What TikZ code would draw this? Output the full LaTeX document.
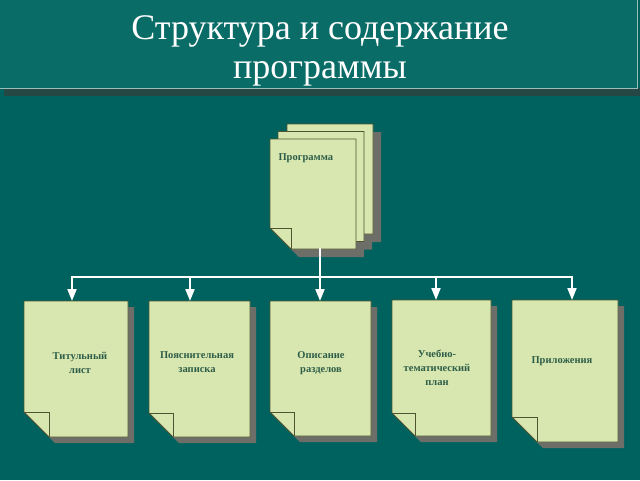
\documentclass[tikz,border=0pt]{standalone}
\usepackage{fontspec}
\setmainfont{Liberation Serif}
\usetikzlibrary{calc,arrows.meta}
\definecolor{bgc}{HTML}{00625E}
\definecolor{barc}{HTML}{0A6C67}
\definecolor{barshadow}{HTML}{234846}
\definecolor{barline}{HTML}{9DBDB8}
\definecolor{pagec}{HTML}{D8E7B0}
\definecolor{pageline}{HTML}{4E5530}
\definecolor{shadowc}{HTML}{6E6E68}
\definecolor{txtc}{HTML}{2E5E48}
\tikzset{
  pagebox/.style={rectangle, inner sep=0pt, outer sep=0pt},
  pagetext/.style={font=\fontsize{10.5}{14}\selectfont\bfseries, text=txtc, align=center},
  arr/.style={draw=white, line width=1.8pt, -{Triangle[width=9pt,length=12pt]}},
  bus/.style={draw=white, line width=1.8pt},
}
% #1 node name, #2 fold size, #3 shadow offset
\newcommand\docshadow[3]{%
  \fill[shadowc] ($(#1.north west)+(#3,#3)$) -- ($(#1.north east)+(#3,#3)$) -- ($(#1.south east)+(#3,#3)$) -- ($(#1.south west)+(#2+#3,#3)$) -- ($(#1.south west)+(#3,#3-#2)$) -- cycle;
}
\newcommand\docsheet[2]{%
  \filldraw[fill=pagec, draw=pageline, line width=0.9pt] (#1.north west) -- (#1.north east) -- (#1.south east) -- ($(#1.south west)+(#2,0)$) -- ($(#1.south west)+(0,-#2)$) -- cycle;
  \draw[pageline, line width=0.9pt] ($(#1.south west)+(0,-#2)$) -- ($(#1.south west)+(#2,-#2)$) -- ($(#1.south west)+(#2,0)$);
}
\begin{document}
\begin{tikzpicture}[x=1pt,y=-1pt]
\fill[bgc] (0,0) rectangle (640,480);
\useasboundingbox (0,0) rectangle (640,480);
% title bar
\fill[barshadow] (4,88) rectangle (640,96);
\fill[barc] (0,0) rectangle (637,88);
\draw[barline, line width=1pt] (0,88) -- (637,88) -- (637,0);
\node[font=\fontsize{36}{39}\selectfont, text=white, align=center] (title) at (320,51) {Структура и содержание\\программы};
% program stack
\node[pagebox, minimum width=86pt, minimum height=110pt] (p3) at (330,179) {};
\node[pagebox, minimum width=86pt, minimum height=110pt] (p2) at (321,186.5) {};
\node[pagebox, minimum width=86pt, minimum height=110pt] (prog) at (313,194) {};
\docshadow{p3}{21}{8}
\docshadow{p2}{21}{8}
\docshadow{prog}{21}{8}
\docsheet{p3}{21}
\docsheet{p2}{21}
\docsheet{prog}{21}
\node[pagetext, anchor=west] (progtxt) at (275,158) {Программа};
% child pages
\node[pagebox, minimum width=104pt, minimum height=136pt] (t1) at (76,369) {};
\node[pagebox, minimum width=101pt, minimum height=136pt] (t2) at (199.5,369) {};
\node[pagebox, minimum width=101pt, minimum height=135pt] (t3) at (320.5,368.5) {};
\node[pagebox, minimum width=99pt, minimum height=136pt] (t4) at (441.5,368) {};
\node[pagebox, minimum width=106pt, minimum height=142pt] (t5) at (565,371) {};
\docshadow{t1}{25}{6}\docsheet{t1}{25}
\docshadow{t2}{24}{6}\docsheet{t2}{24}
\docshadow{t3}{24}{6}\docsheet{t3}{24}
\docshadow{t4}{23}{6}\docsheet{t4}{23}
\docshadow{t5}{25}{6}\docsheet{t5}{25}
\node[pagetext] (l1) at (80,363) {Титульный\\лист};
\node[pagetext] (l2) at (197,362) {Пояснительная\\записка};
\node[pagetext] (l3) at (321,363) {Описание\\разделов};
\node[pagetext] (l4) at (437,368) {Учебно-\\тематический\\план};
\node[pagetext] (l5) at (562,361) {Приложения};
% connectors
\coordinate (stemtop) at (320,248);
\coordinate (b1) at (72,277);
\coordinate (b2) at (190,277);
\coordinate (b3) at (320,277);
\coordinate (b4) at (436,277);
\coordinate (b5) at (572,277);
\draw[bus] (stemtop) -- (b3);
\draw[bus, line cap=rect] (b1) -- (b5);
\draw[arr] (b1) -- (b1 |- t1.north);
\draw[arr] (b2) -- (b2 |- t2.north);
\draw[arr] (b3) -- (b3 |- t3.north);
\draw[arr] (b4) -- (b4 |- t4.north);
\draw[arr] (b5) -- (b5 |- t5.north);
\end{tikzpicture}
\end{document}
